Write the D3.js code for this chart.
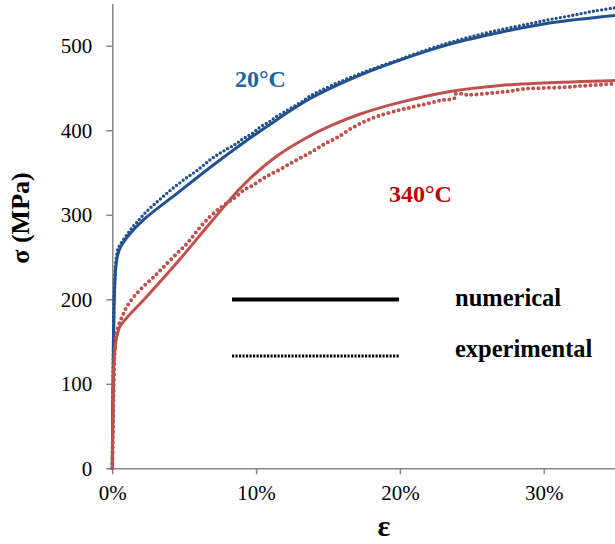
<!DOCTYPE html>
<html>
<head>
<meta charset="utf-8">
<script src="https://cdn.jsdelivr.net/npm/d3@7"></script>
<style>
  html, body { margin: 0; padding: 0; background: #fff; }
  svg { display: block; }
</style>
</head>
<body>
<svg id="chart" width="615" height="544"></svg>
<script>
// ---------- DATA ----------
const xTicks = [0, 0.1, 0.2, 0.3];
const yTicks = [0, 100, 200, 300, 400, 500];

// 20°C numerical (strain, stress MPa)
const num20Strain = [0, 0.0003, 0.0007, 0.0012, 0.0018, 0.0026, 0.0040, 0.0058, 0.0080, 0.012, 0.0216, 0.0448, 0.068, 0.091, 0.114, 0.137, 0.165, 0.2, 0.235, 0.27, 0.304, 0.35];
const num20Stress = [0, 70, 140, 188, 220, 240, 254, 262, 268, 277, 294, 325, 356, 385, 412, 437, 460, 483, 502, 516, 527, 536];

// 20°C experimental
const exp20Strain = [0, 0.0002, 0.0004, 0.0006, 0.0008, 0.001, 0.0013, 0.0017, 0.0022, 0.003, 0.004, 0.0055, 0.0075, 0.01, 0.013, 0.017, 0.0216, 0.027, 0.033, 0.039, 0.0448, 0.051, 0.057, 0.063, 0.068, 0.074, 0.08, 0.086, 0.091, 0.097, 0.103, 0.109, 0.114, 0.12, 0.126, 0.132, 0.137, 0.145, 0.155, 0.165, 0.18, 0.2, 0.22, 0.235, 0.25, 0.27, 0.29, 0.304, 0.32, 0.335, 0.35];
const exp20Stress = [0, 40, 80, 115, 150, 180, 205, 225, 240, 252, 260, 265, 270, 276, 283, 291, 300, 309, 318, 327, 335, 343, 350, 358, 365, 372, 378, 384, 390, 396, 404, 410, 416, 422, 428, 434, 440, 447, 455, 462, 472, 484, 496, 504, 511, 519, 526, 531, 536, 541, 545];

// 340°C numerical
const num340Strain = [0, 0.0004, 0.0008, 0.0012, 0.0019, 0.0030, 0.0054, 0.01, 0.0216, 0.0448, 0.068, 0.091, 0.114, 0.137, 0.154, 0.172, 0.2, 0.235, 0.27, 0.30, 0.35];
const num340Stress = [0, 50, 95, 125, 141, 155, 168, 178, 199, 243, 290, 335, 369, 393, 407, 419, 433, 446, 453, 456, 459];

// 340°C experimental
const exp340Strain = [0, 0.0003, 0.0006, 0.0009, 0.0012, 0.0016, 0.0022, 0.003, 0.0045, 0.007, 0.01, 0.015, 0.0216, 0.028, 0.035, 0.0448, 0.052, 0.06, 0.068, 0.075, 0.0815, 0.0865, 0.092, 0.097, 0.103, 0.11, 0.118, 0.126, 0.135, 0.142, 0.149, 0.157, 0.166, 0.175, 0.185, 0.2, 0.21, 0.22, 0.23, 0.238, 0.2385, 0.248, 0.263, 0.275, 0.286, 0.30, 0.316, 0.33, 0.35];
const exp340Stress = [0, 30, 60, 90, 115, 135, 150, 160, 170, 180, 191, 203, 215, 225, 237, 254, 266, 283, 298, 308, 316, 322, 330, 334, 341, 348, 355, 363, 371, 378, 385, 392, 402, 410, 417, 424, 428, 432, 436, 438, 443, 442, 444, 446, 449, 450, 451, 453, 455];

const legendLabels = ["numerical", "experimental"];
const seriesLabels = ["20°C", "340°C"];

// ---------- CHART ----------
const svg = d3.select("#chart");
const x = d3.scaleLinear().domain([0, 0.35]).range([112.3, 615.6]);
const y = d3.scaleLinear().domain([0, 550]).range([468.3, 3.55]);

const axisColor = "#868686";
const serif = "'Liberation Serif', 'Times New Roman', serif";

// Y axis
const yAxis = svg.append("g").attr("transform", `translate(${x(0)},0)`)
  .call(d3.axisLeft(y).tickValues(yTicks).tickSize(6).tickSizeOuter(0).tickPadding(14).tickFormat(d3.format("d")));
yAxis.select(".domain").attr("stroke", axisColor).attr("stroke-width", 1.5);
yAxis.selectAll(".tick line").attr("stroke", axisColor).attr("stroke-width", 1.5);
yAxis.selectAll(".tick text").attr("font-family", serif).attr("font-size", 21).attr("fill", "#000");

// X axis
const xAxis = svg.append("g").attr("transform", `translate(0,${y(0)})`)
  .call(d3.axisBottom(x).tickValues(xTicks).tickSize(6).tickSizeOuter(0).tickPadding(11).tickFormat(d3.format(".0%")));
xAxis.select(".domain").attr("stroke", axisColor).attr("stroke-width", 1.5);
xAxis.selectAll(".tick line").attr("stroke", axisColor).attr("stroke-width", 1.5);
xAxis.selectAll(".tick text").attr("font-family", serif).attr("font-size", 21).attr("fill", "#000");

// Axis titles
svg.append("text")
  .attr("transform", "translate(29,218) rotate(-90)")
  .attr("text-anchor", "middle")
  .attr("font-family", serif).attr("font-weight", "bold").attr("font-size", 26)
  .text("σ (MPa)");
svg.append("text")
  .attr("x", 384).attr("y", 536)
  .attr("text-anchor", "middle")
  .attr("font-family", serif).attr("font-weight", "bold").attr("font-size", 30)
  .text("ε");

const line = d3.line().x(d => x(d[0])).y(d => y(d[1])).curve(d3.curveCatmullRom.alpha(0.5));
const zip = (a, b) => a.map((v, i) => [v, b[i]]);

const blue = "#23508e", red = "#c0504d";

function drawNum(data, color) {
  svg.append("path").datum(data).attr("d", line)
    .attr("fill", "none").attr("stroke", color).attr("stroke-width", 3)
    .attr("stroke-linejoin", "round");
}
function drawExp(data, color, w, gap) {
  svg.append("path").datum(data).attr("d", line)
    .attr("fill", "none").attr("stroke", color).attr("stroke-width", w)
    .attr("stroke-linecap", "round").attr("stroke-dasharray", `0 ${gap}`);
}

drawNum(zip(num20Strain, num20Stress), blue);
drawExp(zip(exp20Strain, exp20Stress), blue, 3.4, 4.2);
drawNum(zip(num340Strain, num340Stress), red);
drawExp(zip(exp340Strain, exp340Stress), red, 4, 5.2);

// Series labels
svg.append("text").attr("x", 235).attr("y", 87)
  .attr("font-family", serif).attr("font-weight", "bold").attr("font-size", 24)
  .attr("fill", "#1b64a0").text(seriesLabels[0]);
svg.append("text").attr("x", 389).attr("y", 202)
  .attr("font-family", serif).attr("font-weight", "bold").attr("font-size", 24)
  .attr("fill", "#c00000").text(seriesLabels[1]);

// Legend
svg.append("line").attr("x1", 232).attr("x2", 399).attr("y1", 299.5).attr("y2", 299.5)
  .attr("stroke", "#000").attr("stroke-width", 4);
svg.append("text").attr("x", 455).attr("y", 306)
  .attr("font-family", serif).attr("font-weight", "bold").attr("font-size", 24.5)
  .text(legendLabels[0]);
svg.append("line").attr("x1", 232).attr("x2", 399).attr("y1", 356).attr("y2", 356)
  .attr("stroke", "#000").attr("stroke-width", 3).attr("stroke-dasharray", "2.2 1.3");
svg.append("text").attr("x", 455).attr("y", 357)
  .attr("font-family", serif).attr("font-weight", "bold").attr("font-size", 24.5)
  .text(legendLabels[1]);
</script>
</body>
</html>
